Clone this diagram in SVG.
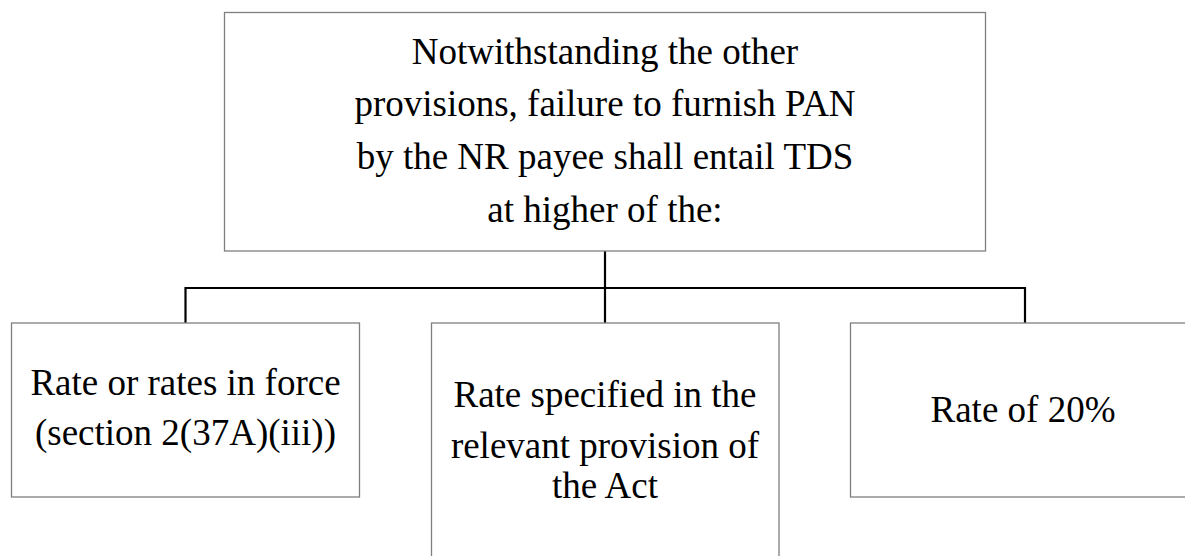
<svg xmlns="http://www.w3.org/2000/svg" width="1185" height="556" viewBox="0 0 1185 556">
<style>
.box{fill:#ffffff;stroke:#7f7f7f;stroke-width:1.3}
.conn{fill:none;stroke:#000000;stroke-width:2.2}
text{font-family:"Liberation Serif","Times New Roman",serif;font-size:37px;fill:#000000;text-anchor:middle}
</style>
<rect width="1185" height="556" fill="#ffffff"/>
<g id="connectors">
<path class="conn" d="M605,251 V323"/>
<path class="conn" d="M185.5,323 V288 H1025 V323"/>
</g>
<g id="node-top">
<rect class="box" x="224.5" y="12.5" width="761" height="238.5"/>
<text x="605" y="63.5">Notwithstanding the other</text>
<text x="605" y="116.3">provisions, failure to furnish PAN</text>
<text x="605" y="169">by the NR payee shall entail TDS</text>
<text x="605" y="221.8">at higher of the:</text>
</g>
<g id="node-left">
<rect class="box" x="11.5" y="323" width="348" height="174"/>
<text x="185.5" y="395">Rate or rates in force</text>
<text x="185.5" y="445">(section 2(37A)(iii))</text>
</g>
<g id="node-middle">
<rect class="box" x="431.5" y="323" width="347.5" height="260"/>
<text x="605" y="407.3">Rate specified in the</text>
<text x="605" y="458.3">relevant provision of</text>
<text x="605" y="498.3">the Act</text>
</g>
<g id="node-right">
<rect class="box" x="850.5" y="323" width="360" height="174"/>
<text x="1023" y="421.7">Rate of 20%</text>
</g>
</svg>
